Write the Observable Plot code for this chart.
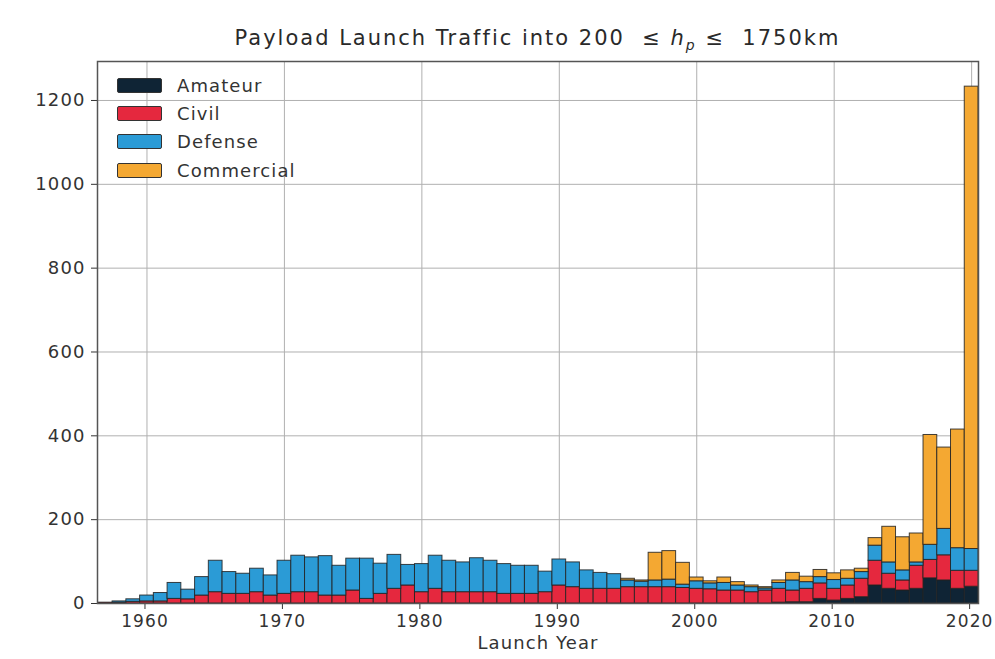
<!DOCTYPE html>
<html>
<head>
<meta charset="utf-8">
<script src="https://cdn.jsdelivr.net/npm/d3@7"></script>
<script src="https://cdn.jsdelivr.net/npm/@observablehq/plot@0.6"></script>
<style>
  html, body { margin: 0; padding: 0; background: #fff; }
  #wrap { position: relative; width: 995px; height: 659px; font-family: "DejaVu Sans", sans-serif; color: #333; }
  #title { position: absolute; left: 97px; width: 881px; top: 26px; text-align: center; font-size: 21px; letter-spacing: 2px; color: #2a2a2a; white-space: nowrap; }
  #title sub { font-size: 14px; }
  #legend { position: absolute; left: 117px; top: 71px; font-size: 18px; letter-spacing: 1.1px; color: #333; }
  .item { display: flex; align-items: center; height: 28.3px; }
  .sw { width: 45px; height: 15px; border: 1px solid #333; border-radius: 2px; margin-right: 15px; box-sizing: border-box; }
</style>
</head>
<body>
<div id="wrap">
  <div id="chart"></div>
  <div id="title">Payload Launch Traffic into 200 &nbsp;≤ <i>h</i><sub><i>p</i></sub> ≤ &nbsp;1750km</div>
  <div id="legend"></div>
</div>
<script>
const categories = ["Amateur", "Civil", "Defense", "Commercial"];
const colors = ["#0f2435", "#e5283e", "#2b9bd6", "#f4a832"];

const years = [1957,1958,1959,1960,1961,1962,1963,1964,1965,1966,1967,1968,1969,
  1970,1971,1972,1973,1974,1975,1976,1977,1978,1979,
  1980,1981,1982,1983,1984,1985,1986,1987,1988,1989,
  1990,1991,1992,1993,1994,1995,1996,1997,1998,1999,
  2000,2001,2002,2003,2004,2005,2006,2007,2008,2009,
  2010,2011,2012,2013,2014,2015,2016,2017,2018,2019,2020];

const amateur = [0,0,0,0,0,0,0,0,0,0,0,0,0,
  0,0,0,0,0,0,0,0,0,0,
  0,0,0,0,0,0,0,0,0,0,
  0,0,0,0,0,0,0,0,0,0,
  0,0,0,0,0,0,2,3,3,11,
  7,11,15,43,35,31,35,60,55,35,40];

const civil = [2,2,4,5,5,11,10,19,27,23,23,27,19,
  23,27,27,19,19,31,11,23,35,43,
  27,35,27,27,27,27,23,23,23,27,
  43,39,35,35,35,39,39,39,39,37,
  35,34,31,31,27,31,33,28,32,37,
  28,32,44,59,36,24,55,44,60,43,38];

const defense = [0,3,6,14,20,38,23,44,75,52,48,56,48,
  79,87,83,94,71,76,96,72,81,49,
  67,79,75,71,81,75,71,67,67,49,
  62,59,44,38,35,16,13,16,18,8,
  18,14,18,12,12,5,14,24,16,15,
  21,16,16,36,27,24,8,36,63,54,52];

const commercial = [0,0,0,0,0,0,0,0,0,0,0,0,0,
  0,0,0,0,0,0,0,0,0,0,
  0,0,0,0,0,0,0,0,0,0,
  0,0,0,0,0,4,3,66,68,52,
  9,5,13,8,4,3,6,18,13,17,
  16,20,8,18,85,79,69,262,194,283,1103];

const xTicks = [1960, 1970, 1980, 1990, 2000, 2010, 2020];
const yTicks = [0, 200, 400, 600, 800, 1000, 1200];

const series = [amateur, civil, defense, commercial];
const rows = [];
categories.forEach((c, i) => {
  years.forEach((y, j) => rows.push({year: y, type: c, value: series[i][j]}));
});

const font = "DejaVu Sans, sans-serif";
const chart = Plot.plot({
  width: 995,
  height: 659,
  marginLeft: 97,
  marginRight: 17,
  marginTop: 61,
  marginBottom: 56,
  style: {fontFamily: font, fontSize: "18px", letterSpacing: "1.1px", color: "#333", background: "#fff"},
  x: {domain: [1956.4, 2020.5], ticks: xTicks, tickFormat: d => String(d)},
  y: {domain: [0, 1293], ticks: yTicks, tickFormat: d => String(d)},
  color: {domain: categories, range: colors},
  marks: [
    Plot.gridX(xTicks, {stroke: "#b0b0b0", strokeOpacity: 1, strokeWidth: 1}),
    Plot.gridY(yTicks, {stroke: "#b0b0b0", strokeOpacity: 1, strokeWidth: 1}),
    Plot.rectY(rows, {
      x1: d => d.year - 0.5,
      x2: d => d.year + 0.5,
      y: "value",
      fill: "type",
      order: categories,
      stroke: "#222",
      strokeWidth: 1,
      strokeOpacity: 0.85
    }),
    Plot.axisX({ticks: xTicks, tickFormat: d => String(d), tickSize: 6, tickPadding: 5, fontSize: 17, dx: -2, label: null, stroke: "#333", style: {letterSpacing: "1px"}}),
    Plot.axisY({ticks: yTicks, tickFormat: d => String(d), tickSize: 6, tickPadding: 6, fontSize: 18, label: null, stroke: "#333"}),
    Plot.text(["Launch Year"], {frameAnchor: "bottom", dy: 45, fontSize: 18, fill: "#333"}),
    Plot.frame({stroke: "#555", strokeWidth: 1.5})
  ]
});
document.getElementById("chart").appendChild(chart);

const legend = document.getElementById("legend");
categories.forEach((c, i) => {
  const item = document.createElement("div");
  item.className = "item";
  const sw = document.createElement("span");
  sw.className = "sw";
  sw.style.background = colors[i];
  const label = document.createElement("span");
  label.textContent = c;
  item.appendChild(sw);
  item.appendChild(label);
  legend.appendChild(item);
});
</script>
</body>
</html>
